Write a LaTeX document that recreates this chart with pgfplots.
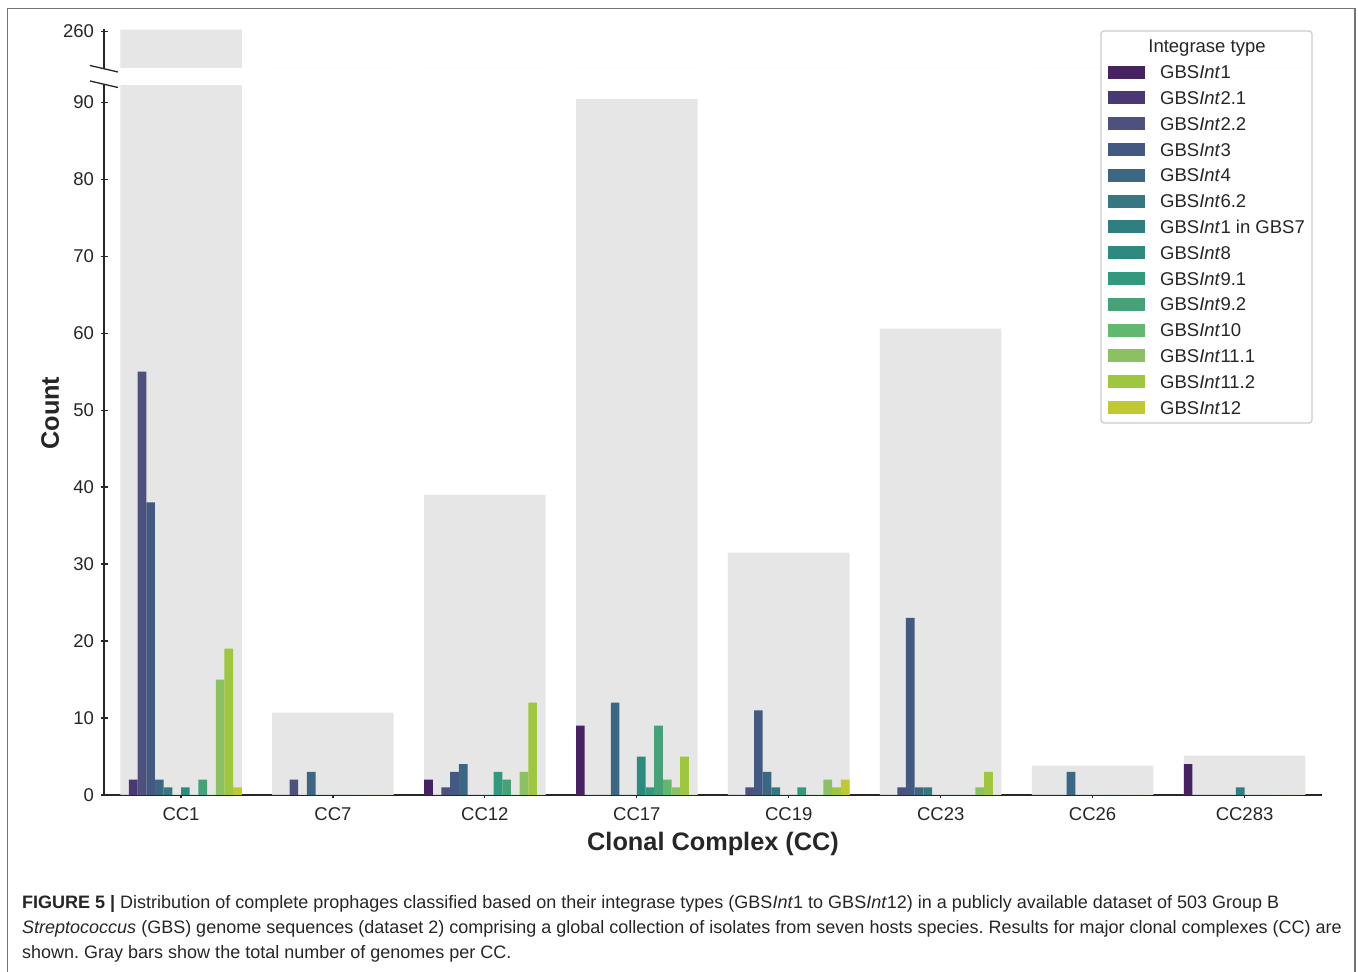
\documentclass[border=0pt]{standalone}
\usepackage{fontspec}
\setmainfont{Liberation Sans}
\newfontfamily\capfont{Liberation Sans}
\usepackage{pgfplots}
\pgfplotsset{compat=1.18}
\usepackage{pgfplotstable}

\definecolor{c1}{HTML}{462360}
\definecolor{c2}{HTML}{4A3873}
\definecolor{c3}{HTML}{4E507E}
\definecolor{c4}{HTML}{435981}
\definecolor{c5}{HTML}{3D6682}
\definecolor{c6}{HTML}{377782}
\definecolor{c7}{HTML}{317E82}
\definecolor{c8}{HTML}{2E897F}
\definecolor{c9}{HTML}{33997E}
\definecolor{c10}{HTML}{46A178}
\definecolor{c11}{HTML}{63B870}
\definecolor{c12}{HTML}{8BC063}
\definecolor{c13}{HTML}{9FC641}
\definecolor{c14}{HTML}{BFC934}
\definecolor{grayc}{HTML}{E6E6E6}
\definecolor{txt}{HTML}{262626}

\pgfplotstableread{
x gray i1 i21 i22 i3 i4 i62 i1g i8 i91 i92 i10 i111 i112 i12
0 260.5 0 2 55 38 2 1 0 1 0 2 0 15 19 1
1 10.7 0 0 2 0 3 0 0 0 0 0 0 0 0 0
2 39.0 2 0 1 3 4 0 0 0 3 2 0 3 12 0
3 90.4 9 0 0 0 12 0 0 5 1 9 2 1 5 0
4 31.5 0 0 1 11 3 1 0 0 1 0 0 2 1 2
5 60.6 0 0 1 23 1 1 0 0 0 0 0 1 3 0
6 3.8 0 0 0 0 3 0 0 0 0 0 0 0 0 0
7 5.1 4 0 0 0 0 0 1 0 0 0 0 0 0 0
}\cc

\pgfplotsset{
  sq legend/.style={legend image code/.code={\fill[##1] (0pt,-4.7pt) rectangle (37pt,8.3pt);}},
  common/.style={
    scale only axis, width=1218pt,
    xmin=-0.507, xmax=7.51,
    tick align=outside, major tick length=7pt,
    tick style={line width=1.2pt, txt},
    tick label style={font=\fontsize{18.5}{22}\selectfont, text=txt},
    yticklabel style={xshift=-3pt},
    xticklabel style={yshift=-6pt},
    /pgf/number format/assume math mode=true,
  },
  nolinearrow/.style={
    every outer x axis line/.append style={-},
    every outer y axis line/.append style={-},
    axis line style={-, line width=1.2pt, txt},
  }
}

\newcommand\ib[4]{%
  \addplot[ybar, bar width=0.057143, bar shift=#2, fill=#3, draw=none, sq legend]
    table[x=x,y=#1]{\cc};
  \addlegendentry{GBS\textit{Int}#4}}

\begin{document}
\frenchspacing
\begin{tikzpicture}
\useasboundingbox (0,0) rectangle (1358pt,972pt);
\fill[white] (0,0) rectangle (1358pt,972pt);
% frame
\draw[line width=1.2pt, black!55] (7.5pt,0pt) -- (7.5pt,963.3pt) -- (1355pt,963.3pt) -- (1355pt,0pt);

% upper axis
\begin{axis}[common,
  at={(104pt,904pt)}, anchor=south west, height=38.7pt,
  ymin=250, ymax=260.6,
  axis x line=none, axis y line=left, nolinearrow,
  ytick={260}, xtick=\empty,
]
\addplot[ybar, bar width=0.8, bar shift=0, fill=grayc, draw=none] table[x=x,y=gray]{\cc};
\end{axis}

% lower axis
\begin{axis}[common,
  at={(104pt,177pt)}, anchor=south west, height=709.7pt,
  ymin=0, ymax=92.2,
  axis x line=bottom, axis y line=left, nolinearrow,
  ytick={0,10,...,90},
  xtick={0,...,7},
  xticklabels={CC1,CC7,CC12,CC17,CC19,CC23,CC26,CC283},
  xlabel={Clonal Complex (CC)},
  ylabel={Count},
  label style={font=\bfseries\fontsize{25.3}{30}\selectfont, text=txt},
  xlabel style={at={(axis description cs:0.5,0)}, anchor=center, yshift=-49pt},
  ylabel style={at={(axis description cs:-0.0443,0.538)}, anchor=center},
  legend cell align=left,
  legend style={at={(axis description cs:0.8243,1.0286)}, anchor=north west,
    draw=none, fill=none, inner sep=0pt, row sep=8.3pt,
    font=\fontsize{18.5}{22}\selectfont, text=txt,
    nodes={inner sep=0pt, text height=13.5pt, text depth=4pt},
    /tikz/every odd column/.style={column sep=15pt}},
]
\addplot[ybar, bar width=0.8, bar shift=0, fill=grayc, draw=none, forget plot] table[x=x,y=gray]{\cc};
\ib{i1}{-0.371429}{c1}{1}
\ib{i21}{-0.314286}{c2}{2.1}
\ib{i22}{-0.257143}{c3}{2.2}
\ib{i3}{-0.2}{c4}{3}
\ib{i4}{-0.142857}{c5}{4}
\ib{i62}{-0.085714}{c6}{6.2}
\ib{i1g}{-0.028571}{c7}{1 in GBS7}
\ib{i8}{0.028571}{c8}{8}
\ib{i91}{0.085714}{c9}{9.1}
\ib{i92}{0.142857}{c10}{9.2}
\ib{i10}{0.2}{c11}{10}
\ib{i111}{0.257143}{c12}{11.1}
\ib{i112}{0.314286}{c13}{11.2}
\ib{i12}{0.371429}{c14}{12}
\end{axis}

% axis break marks
\draw[line width=1.3pt, txt] (90pt,906.5pt) -- (118pt,900pt);
\draw[line width=1.3pt, txt] (90pt,891pt) -- (118pt,884.5pt);

% legend frame and title
\draw[line width=1.2pt, black!20, rounded corners=3pt] (1101pt,941pt) rectangle (1312pt,549pt);
\node[anchor=base, inner sep=0pt, text=txt, font=\fontsize{18.5}{22}\selectfont] at (1207pt,919.5pt) {Integrase type};

% caption
\begin{scope}[every node/.style={anchor=base west, inner sep=0pt, text=txt, font=\capfont\fontsize{18}{22}\selectfont}]
\node at (22pt,63.5pt) {\textbf{FIGURE 5 |} Distribution of complete prophages classified based on their integrase types (GBS\textit{Int}1 to GBS\textit{Int}12) in a publicly available dataset of 503 Group B};
\node at (22pt,38.5pt) {\textit{Streptococcus} (GBS) genome sequences (dataset 2) comprising a global collection of isolates from seven hosts species. Results for major clonal complexes (CC) are};
\node at (22pt,13pt) {shown. Gray bars show the total number of genomes per CC.};
\end{scope}
\end{tikzpicture}
\end{document}
